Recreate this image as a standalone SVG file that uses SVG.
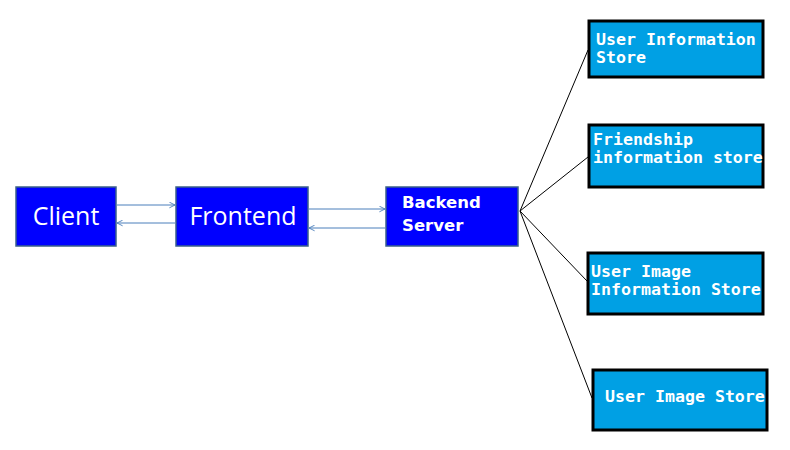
<svg xmlns="http://www.w3.org/2000/svg" width="790" height="450" viewBox="0 0 790 450">
<style>
.proc{fill:#0000FF;stroke:#3A5F8B;stroke-width:1.5}
.store{fill:#00A0E4;stroke:#000;stroke-width:3}
.big{font-family:"Open Sans","Noto Sans",sans-serif;font-size:25px;fill:#fff;text-anchor:middle}
.bk{font-family:"DejaVu Sans",sans-serif;font-weight:bold;font-size:16.5px;fill:#fff}
.mono{font-family:"DejaVu Sans Mono","Liberation Mono",monospace;font-weight:bold;font-size:16.6px;fill:#fff}
.arr{stroke:#4A7EBB;stroke-width:1;fill:none;marker-end:url(#ah)}
.fan{stroke:#000;stroke-width:1;fill:none}
</style>
<defs>
<marker id="ah" viewBox="0 0 10 10" refX="9" refY="5" markerWidth="7" markerHeight="7" markerUnits="userSpaceOnUse" orient="auto">
<polyline points="1,1 9,5 1,9" fill="none" stroke="#4A7EBB" stroke-width="1.3"/>
</marker>
</defs>
<rect width="790" height="450" fill="#fff"/>
<g id="connectors">
<line class="arr" x1="117" y1="205" x2="175" y2="205"/>
<line class="arr" x1="175" y1="223" x2="117" y2="223"/>
<line class="arr" x1="309" y1="209" x2="385" y2="209"/>
<line class="arr" x1="385" y1="228" x2="309" y2="228"/>
<line class="fan" x1="520" y1="211" x2="588" y2="50"/>
<line class="fan" x1="520" y1="211" x2="588" y2="157"/>
<line class="fan" x1="520" y1="211" x2="587" y2="281"/>
<line class="fan" x1="520" y1="211" x2="592" y2="398"/>
</g>
<g id="client">
<rect class="proc" x="16" y="187" width="100" height="59"/>
<text class="big" x="66" y="225">Client</text>
</g>
<g id="frontend">
<rect class="proc" x="176" y="187" width="132" height="59"/>
<text class="big" x="243" y="225">Frontend</text>
</g>
<g id="backend">
<rect class="proc" x="386" y="187" width="132" height="59"/>
<text class="bk" x="402" y="208">Backend</text>
<text class="bk" x="402" y="231">Server</text>
</g>
<g id="user-info-store">
<rect class="store" x="589" y="21" width="174" height="56"/>
<text class="mono" x="596" y="45">User Information</text>
<text class="mono" x="596" y="63">Store</text>
</g>
<g id="friendship-store">
<rect class="store" x="589" y="125" width="174" height="62"/>
<text class="mono" x="593" y="145">Friendship</text>
<text class="mono" x="593" y="163">information store</text>
</g>
<g id="user-image-info-store">
<rect class="store" x="588" y="253" width="175" height="61"/>
<text class="mono" x="591" y="277">User Image</text>
<text class="mono" x="591" y="295">Information Store</text>
</g>
<g id="user-image-store">
<rect class="store" x="593" y="370" width="174" height="60"/>
<text class="mono" x="605" y="402">User Image Store</text>
</g>
</svg>
